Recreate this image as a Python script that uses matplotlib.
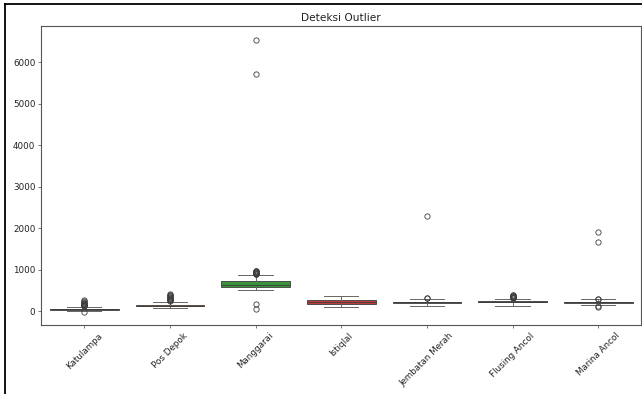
import colorsys
import matplotlib
matplotlib.use('Agg')
import matplotlib.pyplot as plt
import matplotlib.colors as mcolors
from matplotlib.lines import Line2D

# box statistics
stations = ['Katulampa', 'Pos Depok', 'Manggarai', 'Istiqlal',
            'Jembatan Merah', 'Flusing Ancol', 'Marina Ancol']
q1 = [30, 115, 585, 180, 205, 212, 198]
med = [40, 128, 640, 215, 215, 222, 208]
q3 = [52, 142, 732, 262, 228, 235, 220]
whislo = [0, 80, 505, 105, 125, 130, 140]
whishi = [105, 225, 870, 360, 290, 295, 290]
fliers = [
    [-35, 115, 125, 135, 145, 155, 165, 175, 190, 205, 220, 240, 255],
    [240, 255, 270, 285, 300, 315, 330, 345, 360, 375, 390, 405],
    [50, 170, 885, 895, 905, 915, 925, 935, 945, 955, 965, 975, 5720, 6550],
    [],
    [310, 320, 2290],
    [310, 320, 330, 340, 350, 360, 370, 380, 390],
    [105, 120, 280, 300, 1660, 1900],
]

# seaborn-like palette: tab10 desaturated to 0.75
def desat(c, prop=0.75):
    h, l, s = colorsys.rgb_to_hls(*mcolors.to_rgb(c))
    return colorsys.hls_to_rgb(h, l, s * prop)

colors = [desat(c) for c in plt.cm.tab10.colors[:len(stations)]]
linecolor = '#3d3d3d'

stats = []
for i, name in enumerate(stations):
    stats.append(dict(label=name, q1=q1[i], med=med[i], q3=q3[i],
                      whislo=whislo[i], whishi=whishi[i], fliers=fliers[i]))

fig = plt.figure(figsize=(6.42, 3.94), dpi=100)
ax = fig.add_axes([0.0646, 0.175, 0.934, 0.759])

bp = ax.bxp(stats, positions=range(len(stations)), widths=0.8,
            patch_artist=True, capwidths=0.4,
            boxprops=dict(edgecolor=linecolor, linewidth=0.6),
            medianprops=dict(color=linecolor, linewidth=0.6),
            whiskerprops=dict(color='#666666', linewidth=0.7),
            capprops=dict(color='#666666', linewidth=0.7),
            flierprops=dict(marker='o', markersize=3.8, markerfacecolor='none',
                            markeredgecolor=linecolor, markeredgewidth=0.6))
for patch, c in zip(bp['boxes'], colors):
    patch.set_facecolor(c)

ax.set_xlim(-0.5, len(stations) - 0.5)
ax.set_ylim(-338, 6876)
ax.set_xticks(range(len(stations)))
ax.set_xticklabels(stations, rotation=45, fontsize=6.3, color='#222222')
ax.tick_params(axis='y', labelsize=6.3, labelcolor='#222222')
ax.tick_params(length=2.2, width=0.5, pad=2.2, color='#444444')
ax.set_title('Deteksi Outlier', fontsize=7.6, pad=3.8, color='#222222')
for sp in ax.spines.values():
    sp.set_color('#555555')
    sp.set_linewidth(0.8)

# screenshot frame on the left and top
fig.add_artist(Line2D([5 / 642, 5 / 642], [0, 1 - 4 / 394], color='black', lw=1.3))
fig.add_artist(Line2D([5 / 642, 1], [1 - 4 / 394, 1 - 4 / 394], color='black', lw=1.3))

fig.savefig('out.png', dpi=100)
